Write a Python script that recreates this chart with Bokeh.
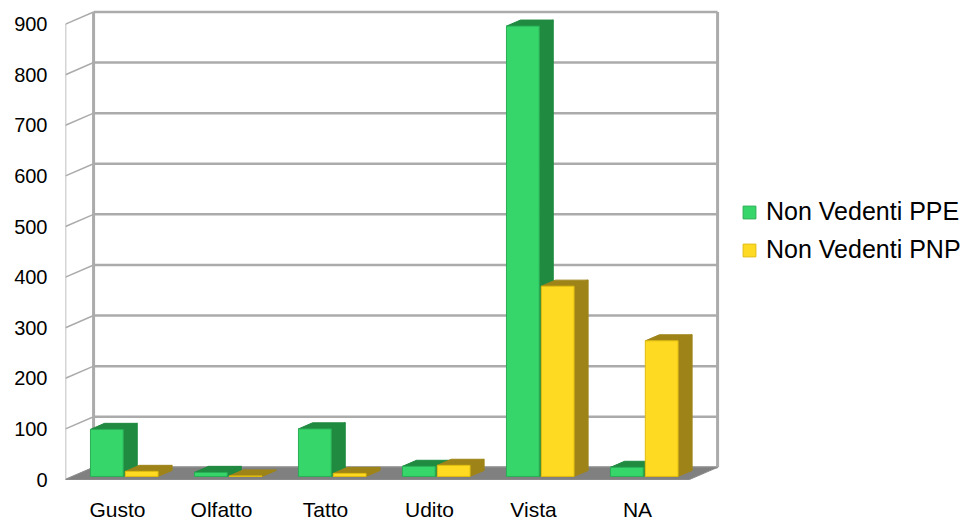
from bokeh.plotting import figure
from bokeh.models import ColumnDataSource, FixedTicker, Legend, LegendItem, Range1d
from bokeh.embed import file_html
from bokeh.resources import INLINE

# ---- data ----
categories = ["Gusto", "Olfatto", "Tatto", "Udito", "Vista", "NA"]
ppe = [93, 8, 94, 20, 890, 18]
pnp = [10, 1, 6, 22, 376, 268]
series_names = ["Non Vedenti PPE", "Non Vedenti PNP"]
y_ticks = [0, 100, 200, 300, 400, 500, 600, 700, 800, 900]

# ---- geometry / style ----
PX_CAT = 104.0
PX_VAL = 0.506
FRAME_W, FRAME_H = 911, 484
DX, DY = 0.27, 24.0          # wall depth (data units)
BDX, BDY = 0.135, 12.0       # bar depth
BASE = 6.0
BAR_W = 0.315
OFFS = [0.24, 0.575]
FRONT = ["#37D66B", "#FFDA22"]
DARK = ["#1F8A40", "#9E8418"]
EDGE = ["#2AAE55", "#E0BC10"]
GRID = "#ABABAB"
FONT = "Liberation Sans"

n = len(categories)
ymax = y_ticks[-1]

p = figure(frame_width=FRAME_W, frame_height=FRAME_H,
           min_border_left=65, min_border_right=0, min_border_top=0, min_border_bottom=40,
           x_range=Range1d(0, FRAME_W / PX_CAT),
           y_range=Range1d(-5 / PX_VAL, 479 / PX_VAL),
           output_backend="svg", toolbar_location=None)
p.xgrid.visible = False
p.ygrid.visible = False
p.outline_line_color = None
p.background_fill_color = "white"
p.border_fill_color = "white"

# walls
p.multi_line(xs=[[DX, n + DX] for _ in y_ticks], ys=[[v + DY, v + DY] for v in y_ticks],
             line_color=GRID, line_width=2.5)
p.multi_line(xs=[[0, DX] for _ in y_ticks], ys=[[v, v + DY] for v in y_ticks],
             line_color=GRID, line_width=1.5)
p.line([0, 0], [0, ymax], line_color=GRID, line_width=1.5)
p.line([DX, DX], [DY, ymax + DY], line_color=GRID, line_width=3)
p.line([n + DX, n + DX], [DY, ymax + DY], line_color=GRID, line_width=3)
# floor
p.patch([0, n, n + DX, DX], [0, 0, DY, DY], fill_color="#808080", line_color="#8A8A8A", line_width=1)

front_renderers = []
for s, vals in enumerate([ppe, pnp]):
    x0 = [i + OFFS[s] for i in range(n)]
    x1 = [x + BAR_W for x in x0]
    y0 = [BASE] * n
    y1 = [BASE + v for v in vals]
    side_xs = [[a, a + BDX, a + BDX, a] for a in x1]
    side_ys = [[b, b + BDY, t + BDY, t] for b, t in zip(y0, y1)]
    top_xs = [[a, c, c + BDX, a + BDX] for a, c in zip(x0, x1)]
    top_ys = [[t, t, t + BDY, t + BDY] for t in y1]
    p.patches(side_xs, side_ys, fill_color=DARK[s], line_color=DARK[s], line_width=1)
    p.patches(top_xs, top_ys, fill_color=DARK[s], line_color=DARK[s], line_width=1)
    src = ColumnDataSource(dict(left=x0, right=x1, bottom=y0, top=y1))
    r = p.quad(left="left", right="right", bottom="bottom", top="top", source=src,
               fill_color=FRONT[s], line_color=EDGE[s], line_width=1)
    front_renderers.append(r)

# axes
p.yaxis.ticker = FixedTicker(ticks=y_ticks)
p.yaxis.axis_line_color = None
p.yaxis.major_tick_line_color = None
p.yaxis.minor_tick_line_color = None
p.yaxis.major_tick_out = 0
p.yaxis.major_tick_in = 0
p.yaxis.major_label_standoff = 18
p.yaxis.major_label_text_font = FONT
p.yaxis.major_label_text_font_size = "20px"
p.yaxis.major_label_text_color = "black"

xt = [i + 0.5 for i in range(n)]
p.xaxis.ticker = FixedTicker(ticks=xt)
p.xaxis.major_label_overrides = {t: c for t, c in zip(xt, categories)}
p.xaxis.axis_line_color = None
p.xaxis.major_tick_line_color = None
p.xaxis.minor_tick_line_color = None
p.xaxis.major_tick_out = 0
p.xaxis.major_tick_in = 0
p.xaxis.major_label_standoff = 13
p.xaxis.major_label_text_font = FONT
p.xaxis.major_label_text_font_size = "21px"
p.xaxis.major_label_text_color = "black"

legend = Legend(items=[LegendItem(label=nm, renderers=[r]) for nm, r in zip(series_names, front_renderers)],
                location=(676, 220), padding=0, margin=0, spacing=9,
                glyph_width=16, glyph_height=16, label_standoff=9,
                label_text_font=FONT, label_text_font_size="25px", label_text_color="black",
                border_line_color=None, background_fill_alpha=0)
p.add_layout(legend)

open("out.html", "w").write(file_html(p, INLINE))
